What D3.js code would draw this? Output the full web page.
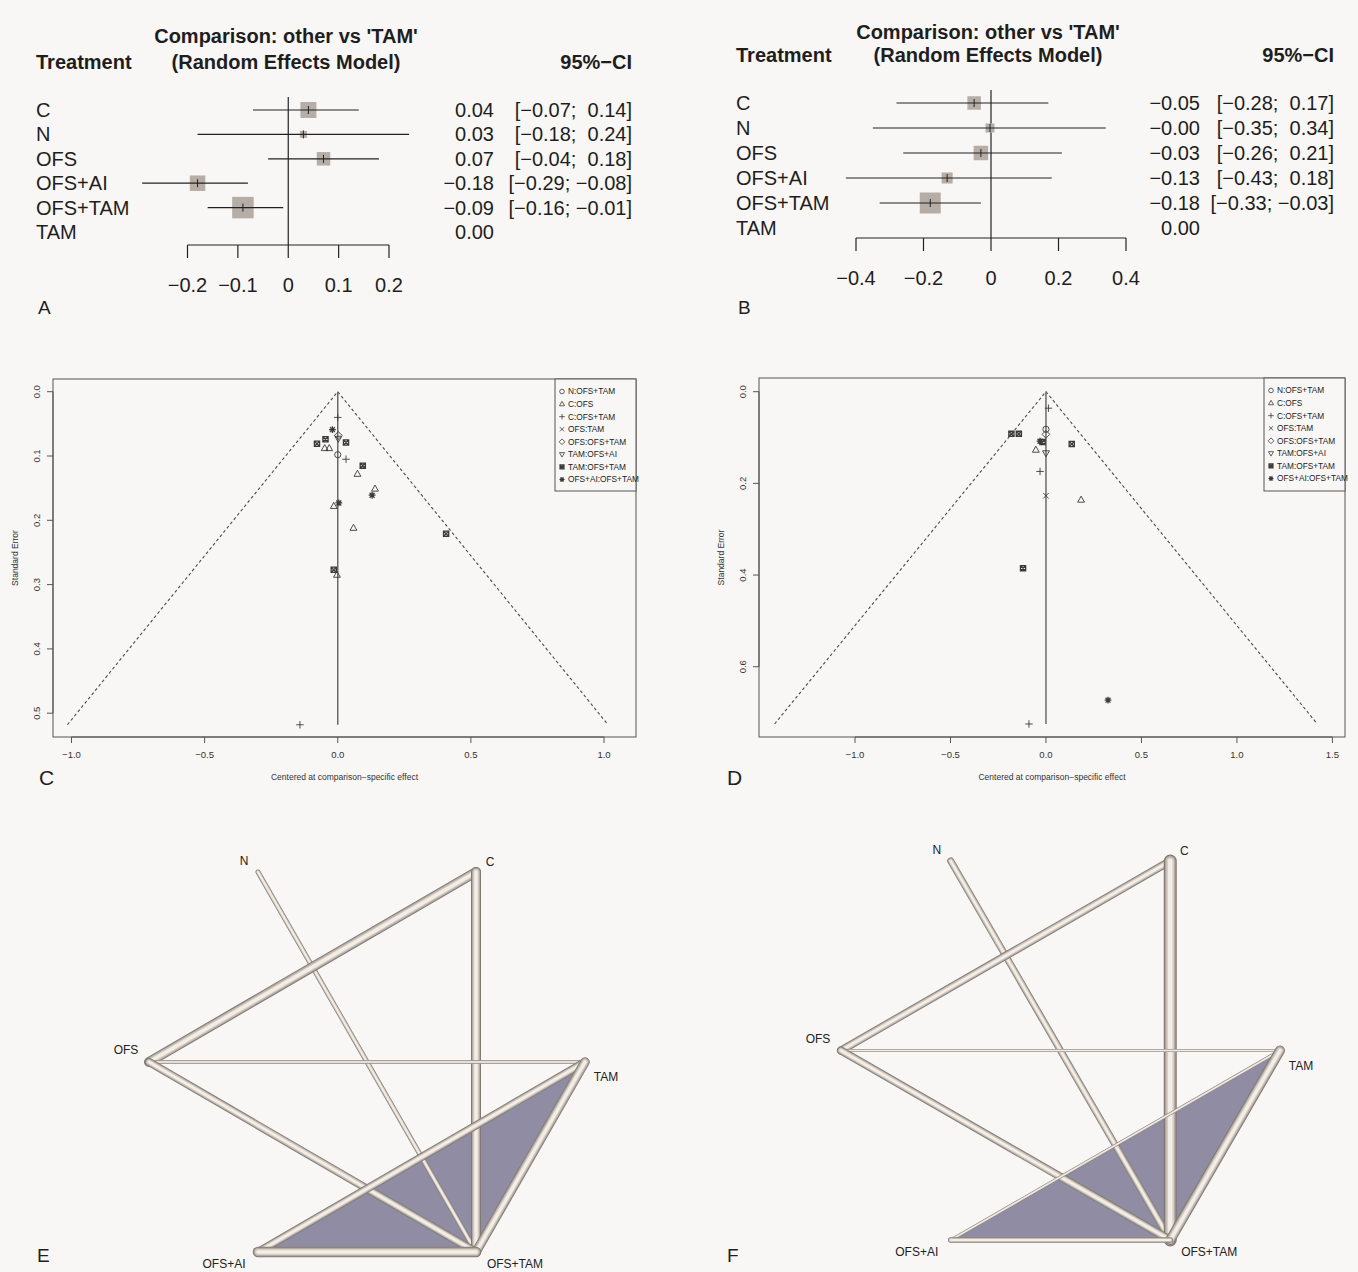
<!DOCTYPE html>
<html><head><meta charset="utf-8">
<script src="https://cdn.jsdelivr.net/npm/d3@7"></script>
<style>
html,body{margin:0;padding:0;background:#f8f7f5;}
svg{display:block;font-family:"Liberation Sans",Arial,Helvetica,sans-serif;}
</style></head><body>
<svg id="chart" width="1358" height="1272"></svg>
<script>
// ---------- Forest plots (A, B) ----------
const treatments = ["C","N","OFS","OFS+AI","OFS+TAM","TAM"];
const estA  = [0.04, 0.03, 0.07, -0.18, -0.09, 0];
const lowA  = [-0.07, -0.18, -0.04, -0.29, -0.16, null];
const highA = [0.14, 0.24, 0.18, -0.08, -0.01, null];
const weightA = [21.5, 4.1, 15.3, 20.2, 38.9, 0];
const ticksA = [-0.2, -0.1, 0, 0.1, 0.2];

const estB  = [-0.05, -0.003, -0.03, -0.13, -0.18, 0];
const lowB  = [-0.28, -0.35, -0.26, -0.43, -0.33, null];
const highB = [0.17, 0.34, 0.21, 0.18, -0.03, null];
const weightB = [17.6, 7.8, 20.3, 11.7, 42.6, 0];
const ticksB = [-0.4, -0.2, 0, 0.2, 0.4];

// ---------- Funnel plots (C, D) ----------
const comparisons = ["N:OFS+TAM","C:OFS","C:OFS+TAM","OFS:TAM","OFS:OFS+TAM","TAM:OFS+AI","TAM:OFS+TAM","OFS+AI:OFS+TAM"];
// comparison index, centred effect, standard error
const funnelC_comp = [2, 7, 4, 5, 6, 6, 6, 1, 1, 0, 2, 6, 1, 1, 7, 7, 1, 1, 6, 6, 1, 2];
const funnelC_x    = [0.000, -0.020, 0.002, 0.002, -0.046, 0.031, -0.078, -0.049, -0.032, 0.000, 0.031, 0.094, 0.074, 0.140, 0.129, 0.004, -0.015, 0.059, 0.407, -0.015, -0.003, -0.142];
const funnelC_se   = [0.040, 0.059, 0.068, 0.073, 0.074, 0.079, 0.081, 0.088, 0.088, 0.098, 0.105, 0.115, 0.128, 0.151, 0.161, 0.173, 0.178, 0.212, 0.221, 0.277, 0.285, 0.518];
const funnelC_xticks = [-1, -0.5, 0, 0.5, 1];
const funnelC_yticks = [0, 0.1, 0.2, 0.3, 0.4, 0.5];

const funnelD_comp = [2, 0, 4, 6, 6, 7, 6, 6, 1, 5, 2, 3, 1, 6, 7, 2];
const funnelD_x    = [0.013, 0.000, 0.000, -0.181, -0.142, -0.031, -0.018, 0.135, -0.053, 0.000, -0.031, 0.000, 0.184, -0.120, 0.325, -0.089];
const funnelD_se   = [0.036, 0.082, 0.093, 0.092, 0.092, 0.108, 0.110, 0.114, 0.127, 0.134, 0.174, 0.227, 0.236, 0.385, 0.673, 0.725];
const funnelD_xticks = [-1, -0.5, 0, 0.5, 1, 1.5];
const funnelD_yticks = [0, 0.2, 0.4, 0.6];

// ---------- Network graphs (E, F) ----------
const nodes = ["N","C","OFS","TAM","OFS+AI","OFS+TAM"];
const nodeLayoutX = [-0.5, 0.5, -1, 1, -0.5, 0.5];
const nodeLayoutY = [1, 1, 0, 0, -1, -1];
const edgeFrom = ["N","C","C","OFS","OFS","TAM","TAM","OFS+AI"];
const edgeTo   = ["OFS+TAM","OFS","OFS+TAM","TAM","OFS+TAM","OFS+AI","OFS+TAM","OFS+TAM"];
const edgeWeightE = [5, 10, 10, 3.5, 8, 8, 9.5, 10.5];
const edgeWeightF = [7, 8, 13, 3, 8, 3, 10, 5.5];
const multiArmTriangle = ["TAM","OFS+AI","OFS+TAM"];

const svg = d3.select("#chart");
const MINUS = s => s.replace(/-/g, "\u2212");
const TXT = "#1e1e1e";

// ---------------- Forest ----------------
function forest(cfg){
  const g = svg.append("g");
  const x = d3.scaleLinear().domain([cfg.ticks[0], cfg.ticks[cfg.ticks.length-1]]).range(cfg.xr);
  const y = d3.scalePoint().domain(treatments).range(cfg.yr);
  const box = d3.scaleSqrt().domain([0, d3.max(cfg.w)]).range([0, cfg.maxBox]);
  g.append("text").attr("x", cfg.titleX).attr("y", cfg.t1).attr("dy","0.35em").attr("text-anchor","middle")
    .attr("font-weight","bold").attr("font-size","20px").attr("fill",TXT).text("Comparison: other vs 'TAM'");
  g.append("text").attr("x", cfg.titleX).attr("y", cfg.t2).attr("dy","0.35em").attr("text-anchor","middle")
    .attr("font-weight","bold").attr("font-size","20px").attr("fill",TXT).text("(Random Effects Model)");
  g.append("text").attr("x", cfg.labX).attr("y", cfg.t2).attr("dy","0.35em")
    .attr("font-weight","bold").attr("font-size","20px").attr("fill",TXT).text("Treatment");
  g.append("text").attr("x", cfg.ciX).attr("y", cfg.t2).attr("dy","0.35em").attr("text-anchor","end")
    .attr("font-weight","bold").attr("font-size","20px").attr("fill",TXT).text("95%\u2212CI");

  g.append("line").attr("x1", x(0)).attr("x2", x(0)).attr("y1", cfg.zeroTop).attr("y2", cfg.axisY)
    .attr("stroke","#222").attr("stroke-width",1.2);

  treatments.forEach((t,i)=>{
    const yy = y(t);
    g.append("text").attr("x", cfg.labX).attr("y", yy).attr("dy","0.35em").attr("font-size","20px").attr("fill",TXT).text(t);
    g.append("text").attr("x", cfg.estX).attr("y", yy).attr("dy","0.35em").attr("text-anchor","end")
      .attr("font-size","20px").attr("fill",TXT).text(MINUS(cfg.est[i].toFixed(2)));
    if (cfg.lo[i] !== null){
      const hi = cfg.hi[i];
      const s = "[" + MINUS(cfg.lo[i].toFixed(2)) + ";" + (hi >= 0 ? "  " : " ") + MINUS(hi.toFixed(2)) + "]";
      g.append("text").attr("x", cfg.ciX).attr("y", yy).attr("dy","0.35em").attr("text-anchor","end")
        .attr("font-size","20px").attr("fill",TXT).style("white-space","pre").text(s);
      const b = box(cfg.w[i]);
      g.append("rect").attr("x", x(cfg.est[i]) - b/2).attr("y", yy - b/2).attr("width", b).attr("height", b)
        .attr("fill","#b6ada7");
      g.append("line").attr("x1", x(cfg.lo[i])).attr("x2", x(cfg.hi[i])).attr("y1", yy).attr("y2", yy)
        .attr("stroke","#222").attr("stroke-width",1.2);
      g.append("line").attr("x1", x(cfg.est[i])).attr("x2", x(cfg.est[i])).attr("y1", yy-4).attr("y2", yy+4)
        .attr("stroke","#222").attr("stroke-width",1);
    }
  });
  g.append("line").attr("x1", x(cfg.ticks[0])).attr("x2", x(cfg.ticks[cfg.ticks.length-1]))
    .attr("y1", cfg.axisY).attr("y2", cfg.axisY).attr("stroke","#222").attr("stroke-width",1.2);
  cfg.ticks.forEach(tv=>{
    g.append("line").attr("x1", x(tv)).attr("x2", x(tv)).attr("y1", cfg.axisY).attr("y2", cfg.axisY + 13)
      .attr("stroke","#222").attr("stroke-width",1.2);
    g.append("text").attr("x", x(tv)).attr("y", cfg.axisY + 40).attr("dy","0.35em").attr("text-anchor","middle")
      .attr("font-size","20px").attr("fill",TXT).text(MINUS(tv === 0 ? "0" : String(tv)));
  });
  g.append("text").attr("x", cfg.letterX).attr("y", 307).attr("dy","0.35em").attr("font-size","19px").attr("fill",TXT).text(cfg.letter);
}

forest({est:estA, lo:lowA, hi:highA, w:weightA, ticks:ticksA, xr:[187.5, 389], yr:[110, 232], maxBox:21.5,
  titleX:286, t1:36, t2:62, labX:36, estX:494, ciX:632, zeroTop:97, axisY:245, letter:"A", letterX:38});
forest({est:estB, lo:lowB, hi:highB, w:weightB, ticks:ticksB, xr:[856, 1126], yr:[103, 228], maxBox:21,
  titleX:988, t1:32, t2:55, labX:736, estX:1200, ciX:1334, zeroTop:90, axisY:238, letter:"B", letterX:738});

// ---------------- Funnel ----------------
function symbolPath(type, cx, cy, s){
  const p = d3.path();
  switch(type){
    case 0: p.moveTo(cx+s, cy); p.arc(cx, cy, s, 0, 2*Math.PI); break;
    case 1: p.moveTo(cx, cy-s*1.2); p.lineTo(cx+s*1.1, cy+s*0.75); p.lineTo(cx-s*1.1, cy+s*0.75); p.closePath(); break;
    case 2: p.moveTo(cx-s*1.2, cy); p.lineTo(cx+s*1.2, cy); p.moveTo(cx, cy-s*1.2); p.lineTo(cx, cy+s*1.2); break;
    case 3: p.moveTo(cx-s*0.9, cy-s*0.9); p.lineTo(cx+s*0.9, cy+s*0.9); p.moveTo(cx+s*0.9, cy-s*0.9); p.lineTo(cx-s*0.9, cy+s*0.9); break;
    case 4: p.moveTo(cx, cy-s*1.25); p.lineTo(cx+s*1.25, cy); p.lineTo(cx, cy+s*1.25); p.lineTo(cx-s*1.25, cy); p.closePath(); break;
    case 5: p.moveTo(cx, cy+s*1.2); p.lineTo(cx+s*1.1, cy-s*0.75); p.lineTo(cx-s*1.1, cy-s*0.75); p.closePath(); break;
    case 6: p.rect(cx-s, cy-s, 2*s, 2*s); p.moveTo(cx-s, cy-s); p.lineTo(cx+s, cy+s); p.moveTo(cx+s, cy-s); p.lineTo(cx-s, cy+s); break;
    case 7: p.moveTo(cx-s*1.1, cy); p.lineTo(cx+s*1.1, cy); p.moveTo(cx, cy-s*1.1); p.lineTo(cx, cy+s*1.1);
            p.moveTo(cx-s*0.8, cy-s*0.8); p.lineTo(cx+s*0.8, cy+s*0.8); p.moveTo(cx+s*0.8, cy-s*0.8); p.lineTo(cx-s*0.8, cy+s*0.8); break;
  }
  return p.toString();
}

function funnel(cfg){
  const g = svg.append("g");
  const x = d3.scaleLinear().domain(cfg.xd).range(cfg.xr);
  const y = d3.scaleLinear().domain(cfg.yd).range(cfg.yr);
  const maxSE = d3.max(cfg.se);
  const b = cfg.box;
  g.append("rect").attr("x", b[0]).attr("y", b[2]).attr("width", b[1]-b[0]).attr("height", b[3]-b[2])
    .attr("fill","none").attr("stroke","#555").attr("stroke-width",1);
  g.append("path").attr("d", `M${x(-1.96*maxSE)},${y(maxSE)}L${x(0)},${y(0)}L${x(1.96*maxSE)},${y(maxSE)}`)
    .attr("fill","none").attr("stroke","#4a4a4a").attr("stroke-width",1.1).attr("stroke-dasharray","3,2.5");
  g.append("line").attr("x1", x(0)).attr("x2", x(0)).attr("y1", y(0)).attr("y2", y(maxSE))
    .attr("stroke","#6a6a6a").attr("stroke-width",1.5);
  const xt = cfg.xticks, yt = cfg.yticks;
  g.append("line").attr("x1", x(xt[0])).attr("x2", x(xt[xt.length-1])).attr("y1", b[3]).attr("y2", b[3]).attr("stroke","#555");
  xt.forEach(v=>{
    g.append("line").attr("x1", x(v)).attr("x2", x(v)).attr("y1", b[3]).attr("y2", b[3]+6).attr("stroke","#555");
    g.append("text").attr("x", x(v)).attr("y", b[3]+18).attr("dy","0.35em").attr("text-anchor","middle")
      .attr("font-size","9.5px").attr("fill","#333").text(MINUS(d3.format(".1f")(v)));
  });
  g.append("line").attr("x1", b[0]).attr("x2", b[0]).attr("y1", y(yt[0])).attr("y2", y(yt[yt.length-1])).attr("stroke","#555");
  yt.forEach(v=>{
    g.append("line").attr("x1", b[0]-6).attr("x2", b[0]).attr("y1", y(v)).attr("y2", y(v)).attr("stroke","#555");
    g.append("text").attr("transform", `translate(${b[0]-16},${y(v)}) rotate(-90)`).attr("dy","0.35em")
      .attr("text-anchor","middle").attr("font-size","9.5px").attr("fill","#333").text(d3.format(".1f")(v));
  });
  g.append("text").attr("transform", `translate(${b[0]-38},${(b[2]+b[3])/2}) rotate(-90)`).attr("dy","0.35em")
    .attr("text-anchor","middle").attr("font-size","8.5px").attr("fill","#333").text("Standard Error");
  g.append("text").attr("x", (b[0]+b[1])/2).attr("y", 777).attr("dy","0.35em").attr("text-anchor","middle")
    .attr("font-size","8.5px").attr("fill","#333").text("Centered at comparison\u2212specific effect");
  g.append("text").attr("x", cfg.letterX).attr("y", 778).attr("dy","0.35em").attr("font-size","21px").attr("fill",TXT).text(cfg.letter);
  cfg.comp.forEach((c,i)=>{
    g.append("path").attr("d", symbolPath(c, x(cfg.x[i]), y(cfg.se[i]), c===6?2.6:3.1))
      .attr("fill","none").attr("stroke","#3a3a3a").attr("stroke-width", c>=6?1.3:0.9);
  });
  const L = cfg.legend;
  g.append("rect").attr("x", L[0]).attr("y", L[2]).attr("width", L[1]-L[0]).attr("height", L[3]-L[2])
    .attr("fill","#f8f7f5").attr("stroke","#555").attr("stroke-width",1);
  const ly = d3.scalePoint().domain(comparisons).range([L[2]+12.5, L[2]+100.5]);
  comparisons.forEach((c,i)=>{
    g.append("path").attr("d", symbolPath(i, L[0]+7, ly(c), i===6?2:2.3))
      .attr("fill","none").attr("stroke","#3a3a3a").attr("stroke-width", i>=6?1.2:0.8);
    g.append("text").attr("x", L[0]+13).attr("y", ly(c)).attr("dy","0.35em").attr("font-size","8.3px").attr("fill","#222").text(c);
  });
}

funnel({comp:funnelC_comp, x:funnelC_x, se:funnelC_se, xticks:funnelC_xticks, yticks:funnelC_yticks,
  xd:[-1,1], xr:[71.5,604], yd:[0,0.5], yr:[391.7,713.2], box:[53,636,379,737], legend:[555,636,379,491], letter:"C", letterX:39});
funnel({comp:funnelD_comp, x:funnelD_x, se:funnelD_se, xticks:funnelD_xticks, yticks:funnelD_yticks,
  xd:[-1,1.5], xr:[855,1332.4], yd:[0,0.6], yr:[391.7,666.7], box:[759,1345,378,737], legend:[1264,1345,378,491], letter:"D", letterX:727});

// ---------------- Network ----------------
const labelOffset = {"N":[-14,-11],"C":[14,-10],"OFS":[-23,-12],"TAM":[21,15],"OFS+AI":[-34,12],"OFS+TAM":[39,12]};
function network(cfg){
  const g = svg.append("g");
  const x = d3.scaleLinear().domain([-1,1]).range(cfg.xr);
  const y = d3.scaleLinear().domain([1,-1]).range(cfg.yr);
  const pos = {};
  nodes.forEach((n,i)=>{ pos[n] = [x(nodeLayoutX[i]), y(nodeLayoutY[i])]; });
  g.append("path").attr("d", "M" + multiArmTriangle.map(n=>pos[n].join(",")).join("L") + "Z")
    .attr("fill","#8f8ca3");
  edgeFrom.forEach((f,i)=>{
    const a = pos[f], c = pos[edgeTo[i]], w = cfg.w[i];
    const layers = [[w, "#7f7a74"], [w*0.8, "#b3aaa1"], [w*0.58, "#d6cdc4"], [w*0.34, "#f3ede7"]];
    layers.forEach(([lw,col])=>{
      g.append("line").attr("x1", a[0]).attr("y1", a[1]).attr("x2", c[0]).attr("y2", c[1])
        .attr("stroke", col).attr("stroke-width", Math.max(lw, 0.8)).attr("stroke-linecap","round");
    });
  });
  nodes.forEach(n=>{
    const o = labelOffset[n];
    g.append("text").attr("x", pos[n][0]+o[0]).attr("y", pos[n][1]+o[1]).attr("dy","0.35em").attr("text-anchor","middle")
      .attr("font-size","12px").attr("fill","#222").text(n);
  });
  g.append("text").attr("x", cfg.letterX).attr("y", 1255).attr("dy","0.35em").attr("font-size","19px").attr("fill",TXT).text(cfg.letter);
}
network({w:edgeWeightE, xr:[149,585], yr:[872,1252], letter:"E", letterX:37});
network({w:edgeWeightF, xr:[841,1280], yr:[861,1240], letter:"F", letterX:727});
</script>
</body></html>
